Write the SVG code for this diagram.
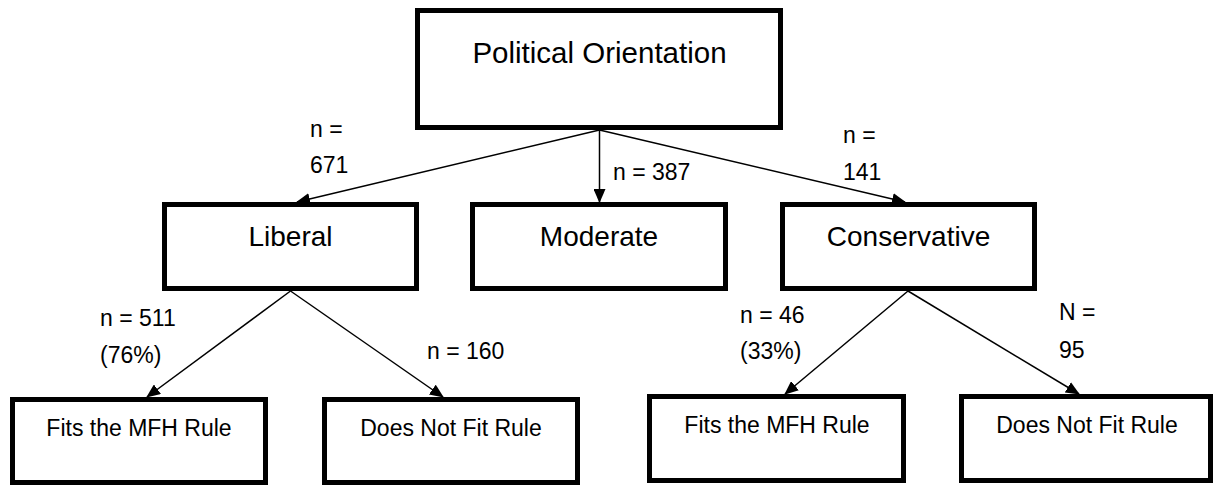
<svg xmlns="http://www.w3.org/2000/svg" width="1215" height="486" viewBox="0 0 1215 486">
<style>
.box{fill:#fff;stroke:#000;stroke-width:5}
.t{font-family:"Liberation Sans",Arial,sans-serif;fill:#000}
.c{text-anchor:middle}
.conn line{stroke:#000;stroke-width:1.5;marker-end:url(#ah)}
.lbl{font-family:"Liberation Sans",Arial,sans-serif;font-size:23px;fill:#000}
</style>
<defs>
<marker id="ah" markerUnits="userSpaceOnUse" markerWidth="14" markerHeight="12" refX="13" refY="6" orient="auto">
<path d="M0,0 L14,6 L0,12 Z" fill="#000"/>
</marker>
</defs>
<rect width="1215" height="486" fill="#fff"/>
<g id="connectors" class="conn">
<line x1="599.5" y1="130" x2="297" y2="202"/>
<line x1="599.5" y1="130" x2="599.5" y2="202"/>
<line x1="599.5" y1="130" x2="905" y2="202"/>
<line x1="290.5" y1="291" x2="147" y2="397"/>
<line x1="290.5" y1="291" x2="443" y2="397"/>
<line x1="908" y1="291" x2="785" y2="394"/>
<line x1="908" y1="291" x2="1079" y2="394"/>
</g>
<g id="political-orientation">
<rect class="box" x="417.5" y="10.5" width="363" height="117"/>
<text class="t c" x="599.5" y="63" font-size="29.5">Political Orientation</text>
</g>
<g id="liberal">
<rect class="box" x="164.5" y="204.5" width="252" height="84"/>
<text class="t c" x="290.5" y="246" font-size="28">Liberal</text>
</g>
<g id="moderate">
<rect class="box" x="472.5" y="204.5" width="253" height="84"/>
<text class="t c" x="599" y="246" font-size="28">Moderate</text>
</g>
<g id="conservative">
<rect class="box" x="782.5" y="204.5" width="252" height="84"/>
<text class="t c" x="908.5" y="246" font-size="28">Conservative</text>
</g>
<g id="lib-fits">
<rect class="box" x="12.5" y="399.5" width="253" height="83"/>
<text class="t c" x="139" y="436" font-size="23">Fits the MFH Rule</text>
</g>
<g id="lib-notfit">
<rect class="box" x="324.5" y="399.5" width="253" height="83"/>
<text class="t c" x="451" y="436" font-size="23">Does Not Fit Rule</text>
</g>
<g id="con-fits">
<rect class="box" x="649.5" y="396.5" width="254" height="84"/>
<text class="t c" x="777" y="433" font-size="23">Fits the MFH Rule</text>
</g>
<g id="con-notfit">
<rect class="box" x="961.5" y="396.5" width="249" height="84"/>
<text class="t c" x="1087" y="433" font-size="23">Does Not Fit Rule</text>
</g>
<g id="labels">
<text class="lbl" x="310" y="137">n =</text>
<text class="lbl" x="310" y="173">671</text>
<text class="lbl" x="613" y="180">n = 387</text>
<text class="lbl" x="843" y="143">n =</text>
<text class="lbl" x="843" y="180">141</text>
<text class="lbl" x="100" y="326">n = 511</text>
<text class="lbl" x="100" y="363">(76%)</text>
<text class="lbl" x="427" y="359">n = 160</text>
<text class="lbl" x="740" y="323">n = 46</text>
<text class="lbl" x="740" y="359">(33%)</text>
<text class="lbl" x="1059" y="320">N =</text>
<text class="lbl" x="1059" y="358">95</text>
</g>
</svg>
